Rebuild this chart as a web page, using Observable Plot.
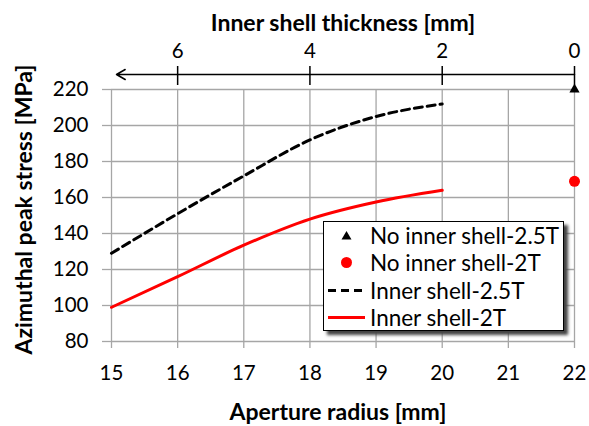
<!DOCTYPE html>
<html>
<head>
<meta charset="utf-8">
<script src="https://cdn.jsdelivr.net/npm/d3@7"></script>
<script src="https://cdn.jsdelivr.net/npm/@observablehq/plot@0.6"></script>
<style>
  html, body { margin: 0; padding: 0; background: white; }
  #wrap { position: relative; width: 589px; height: 426px; font-family: Lato, "Open Sans", sans-serif; }
  #legend {
    position: absolute; left: 323px; top: 221px; width: 241px; height: 110px;
    background: white; border: 1px solid black; box-shadow: 4px 4px 3px #444;
    box-sizing: border-box; padding-top: 0px;
  }
  .row { display: flex; align-items: center; height: 27.3px; font-size: 22.5px; color: black; white-space: nowrap; }
  .row svg { flex: none; margin-left: 4px; margin-right: 5px; }
</style>
</head>
<body>
<div id="wrap"></div>
<script>
// Data
const xRadius = [15, 16, 17, 18, 19, 20];
const stressInner25 = [129, 151, 172, 192, 205, 212];
const stressInner2 = [99, 116, 133.5, 148, 157.5, 164];
const noShellRadius = [22];
const stressNoShell25 = [220];
const stressNoShell2 = [169];
const xTicks = [15, 16, 17, 18, 19, 20, 21, 22];
const yTicks = [80, 100, 120, 140, 160, 180, 200, 220];
const thicknessTicks = [6, 4, 2, 0];
const seriesNames = ["No inner shell-2.5T", "No inner shell-2T", "Inner shell-2.5T", "Inner shell-2T"];
const seriesColors = ["black", "red", "black", "red"];
const xTitle = "Aperture radius [mm]";
const yTitle = "Azimuthal peak stress [MPa]";
const topTitle = "Inner shell thickness [mm]";

const xMax = d3.max(xTicks), xMin = d3.min(xTicks);
const yMax = d3.max(yTicks);
const inner25 = xRadius.map((x, i) => ({x, y: stressInner25[i]}));
const inner2 = xRadius.map((x, i) => ({x, y: stressInner2[i]}));
const none25 = noShellRadius.map((x, i) => ({x, y: stressNoShell25[i]}));
const none2 = noShellRadius.map((x, i) => ({x, y: stressNoShell2[i]}));
const topTicks = thicknessTicks.map(t => xMax - t);
const arrowData = [{x1: xMax, x2: xMin, y: yMax}];

const chart = Plot.plot({
  width: 589, height: 426,
  marginTop: 89, marginBottom: 85, marginLeft: 111, marginRight: 15,
  x: {domain: [xMin, xMax]},
  y: {domain: [d3.min(yTicks), yMax]},
  style: {fontFamily: "Lato, 'Open Sans', sans-serif", fontSize: "20px", color: "black", background: "white", overflow: "visible"},
  marks: [
    Plot.gridX(xTicks, {stroke: "#a6a6a6", strokeOpacity: 1, strokeWidth: 1.3}),
    Plot.gridY(yTicks, {stroke: "#a6a6a6", strokeOpacity: 1, strokeWidth: 1.3}),
    Plot.axisX(xTicks, {anchor: "bottom", tickSize: 7, tickPadding: 17, stroke: "#a6a6a6", strokeWidth: 1.3, label: null, fontSize: 20.5}),
    Plot.axisY(yTicks, {anchor: "left", tickSize: 9, tickPadding: 14, stroke: "#a6a6a6", strokeWidth: 1.3, label: null, fontSize: 20.5}),
    Plot.axisX(topTicks, {anchor: "top", tickSize: 19, tickPadding: 8, dy: -5, stroke: "black", strokeWidth: 1.5, tickFormat: d => xMax - d, label: null, fontSize: 20.5}),
    Plot.arrow(arrowData, {x1: "x1", x2: "x2", y1: "y", y2: "y", dy: -15, stroke: "black", strokeWidth: 1.5, headLength: 10, insetEnd: 5}),
    Plot.line(inner25, {x: "x", y: "y", stroke: seriesColors[2], strokeWidth: 3, strokeDasharray: "8,5", curve: "monotone-x"}),
    Plot.line(inner2, {x: "x", y: "y", stroke: seriesColors[3], strokeWidth: 3, curve: "monotone-x"}),
    Plot.dot(none25, {x: "x", y: "y", symbol: "triangle", fill: seriesColors[0], r: 3.8}),
    Plot.dot(none2, {x: "x", y: "y", symbol: "circle", fill: seriesColors[1], r: 5.5}),
    Plot.text([xTitle], {frameAnchor: "bottom", lineAnchor: "middle", dx: -5, dy: 71, fontWeight: "bold", fontSize: 23}),
    Plot.text([topTitle], {frameAnchor: "top", lineAnchor: "middle", dx: 0, dy: -66, fontWeight: "bold", fontSize: 23}),
    Plot.text([yTitle], {frameAnchor: "left", textAnchor: "middle", lineAnchor: "middle", rotate: -90, dx: -87, dy: -6, fontWeight: "bold", fontSize: 23})
  ]
});
document.getElementById("wrap").appendChild(chart);

// Legend
const legend = document.createElement("div");
legend.id = "legend";
const kinds = ["triangle", "circle", "dash", "solid"];
seriesNames.forEach((name, i) => {
  const row = document.createElement("div");
  row.className = "row";
  const c = seriesColors[i];
  let sym = "";
  if (kinds[i] === "triangle") sym = `<polygon points="18.5,7 23.5,15.5 13.5,15.5" fill="${c}"/>`;
  else if (kinds[i] === "circle") sym = `<circle cx="18.5" cy="11.5" r="5.5" fill="${c}"/>`;
  else if (kinds[i] === "dash") sym = `<line x1="0" x2="37" y1="11.5" y2="11.5" stroke="${c}" stroke-width="3" stroke-dasharray="8,5"/>`;
  else sym = `<line x1="0" x2="37" y1="11.5" y2="11.5" stroke="${c}" stroke-width="3"/>`;
  row.innerHTML = `<svg width="37" height="23">${sym}</svg><span>${name}</span>`;
  legend.appendChild(row);
});
document.getElementById("wrap").appendChild(legend);
</script>
</body>
</html>
